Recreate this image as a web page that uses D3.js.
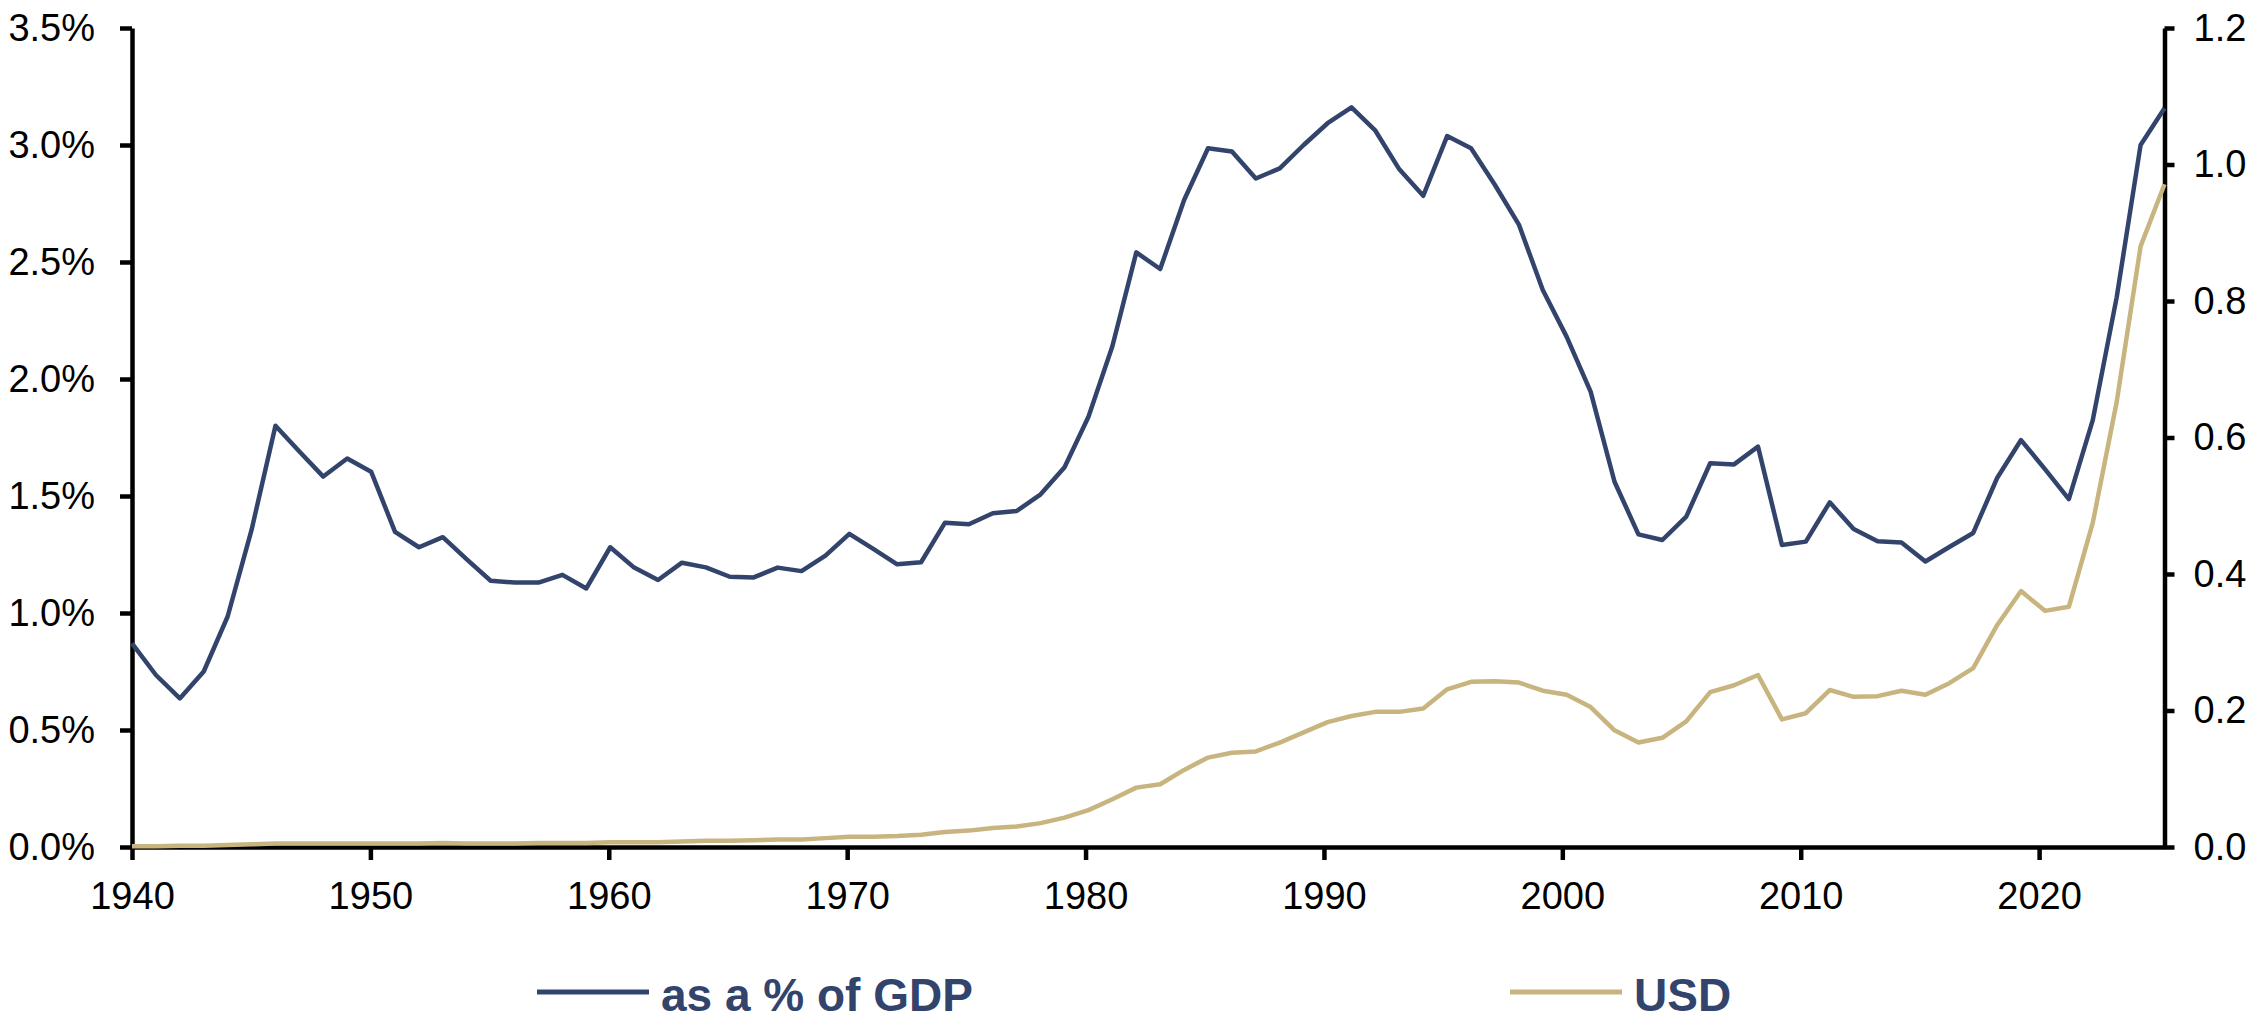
<!DOCTYPE html>
<html>
<head>
<meta charset="utf-8">
<script src="https://cdn.jsdelivr.net/npm/d3@7"></script>
<style>
  html, body { margin: 0; padding: 0; background: #fff; }
  svg { display: block; }
  .axis text { font-family: "Liberation Sans", Arial, sans-serif; font-size: 38px; fill: #000; }
  .axis path, .axis line { stroke: #000; stroke-width: 4.5px; }
  .legend text { font-family: "Liberation Sans", Arial, sans-serif; font-size: 46px; font-weight: bold; fill: #33446c; }
</style>
</head>
<body>
<svg id="chart" width="2248" height="1020"></svg>
<script>
// years 1940 .. 2025
var years = d3.range(1940, 2026);

// as a % of GDP (left axis)
var pct_gdp = [
  0.87, 0.735, 0.635, 0.75, 0.985, 1.355, 1.80, 1.69, 1.583, 1.66,
  1.604, 1.347, 1.281, 1.324, 1.229, 1.138, 1.13, 1.13, 1.163, 1.105,
  1.281, 1.194, 1.141, 1.215, 1.195, 1.155, 1.152, 1.194, 1.179, 1.245,
  1.338, 1.274, 1.208, 1.217, 1.386, 1.379, 1.426, 1.436, 1.507, 1.623,
  1.839, 2.14, 2.541, 2.47, 2.765, 2.986, 2.972, 2.857, 2.90, 3.0,
  3.093, 3.161, 3.061, 2.896, 2.783, 3.038, 2.986, 2.829, 2.66, 2.38,
  2.18, 1.946, 1.561, 1.336, 1.312, 1.412, 1.64, 1.635, 1.711, 1.291,
  1.305, 1.473, 1.359, 1.307, 1.301, 1.22, 1.282, 1.342, 1.577, 1.739,
  1.615, 1.487, 1.824, 2.349, 3.0, 3.157
];

// USD (right axis)
var usd = [
  0.001, 0.001, 0.002, 0.002, 0.003, 0.004, 0.005, 0.005, 0.005, 0.005,
  0.005, 0.005, 0.005, 0.006, 0.005, 0.005, 0.005, 0.006, 0.006, 0.006,
  0.007, 0.007, 0.007, 0.008, 0.009, 0.009, 0.010, 0.011, 0.011, 0.013,
  0.015, 0.015, 0.016, 0.018, 0.022, 0.024, 0.028, 0.030, 0.035, 0.043,
  0.054, 0.07, 0.087, 0.092, 0.113, 0.131, 0.138, 0.14, 0.153, 0.168,
  0.183, 0.192, 0.198, 0.198, 0.203, 0.231, 0.242, 0.243, 0.241, 0.229,
  0.223, 0.205, 0.171, 0.153, 0.160, 0.184, 0.227, 0.237, 0.252, 0.187,
  0.196, 0.230, 0.220, 0.221, 0.229, 0.223, 0.240, 0.262, 0.325, 0.375,
  0.346, 0.352, 0.475, 0.652, 0.880, 0.971
];

var x_ticks = [1940, 1950, 1960, 1970, 1980, 1990, 2000, 2010, 2020];
var left_ticks = [0, 0.5, 1.0, 1.5, 2.0, 2.5, 3.0, 3.5];
var right_ticks = [0, 0.2, 0.4, 0.6, 0.8, 1.0, 1.2];

var series_names = ["as a % of GDP", "USD"];
var series_colors = ["#33446c", "#c8b47f"];

// plot area
var x_left = 132, x_right = 2164.5, y_top = 28, y_bottom = 847;

var svg = d3.select("#chart");

// axis scale (time ticks) and line scale (points spread over the whole width)
var x_axis_scale = d3.scaleLinear().domain([1940, 2025.26]).range([x_left, x_right]);
var x = d3.scaleLinear().domain([1940, 2025]).range([x_left, x_right]);
var yL = d3.scaleLinear().domain([0, 3.5]).range([y_bottom, y_top]);
var yR = d3.scaleLinear().domain([0, 1.2]).range([y_bottom, y_top]);

// axes
svg.append("g")
    .attr("class", "axis")
    .attr("transform", "translate(0," + y_bottom + ")")
    .call(d3.axisBottom(x_axis_scale).tickValues(x_ticks).tickFormat(d3.format("d"))
            .tickSize(13).tickSizeOuter(0).tickPadding(22));

svg.append("g")
    .attr("class", "axis")
    .attr("transform", "translate(" + x_left + ",0)")
    .call(d3.axisLeft(yL).tickValues(left_ticks).tickFormat(d => d.toFixed(1) + "%")
            .tickSize(12).tickSizeOuter(0).tickPadding(25));

svg.append("g")
    .attr("class", "axis")
    .attr("transform", "translate(" + x_right + ",0)")
    .call(d3.axisRight(yR).tickValues(right_ticks).tickFormat(d3.format(".1f"))
            .tickSize(10).tickSizeOuter(0).tickPadding(19));

// lines
var lineL = d3.line().x((d, i) => x(years[i])).y(d => yL(d));
var lineR = d3.line().x((d, i) => x(years[i])).y(d => yR(d));

svg.append("path")
    .datum(usd)
    .attr("d", lineR)
    .attr("fill", "none")
    .attr("stroke", series_colors[1])
    .attr("stroke-width", 4.5)
    .attr("stroke-linejoin", "round");

svg.append("path")
    .datum(pct_gdp)
    .attr("d", lineL)
    .attr("fill", "none")
    .attr("stroke", series_colors[0])
    .attr("stroke-width", 4.5)
    .attr("stroke-linejoin", "round");

// legend
var legend_x = [537, 1510];
var legend = svg.append("g").attr("class", "legend");
series_names.forEach((name, i) => {
    legend.append("line")
        .attr("x1", legend_x[i]).attr("x2", legend_x[i] + 112)
        .attr("y1", 992).attr("y2", 992)
        .attr("stroke", series_colors[i])
        .attr("stroke-width", 5);
    legend.append("text")
        .attr("x", legend_x[i] + 124)
        .attr("y", 994)
        .attr("dy", "0.36em")
        .text(name);
});
</script>
</body>
</html>
